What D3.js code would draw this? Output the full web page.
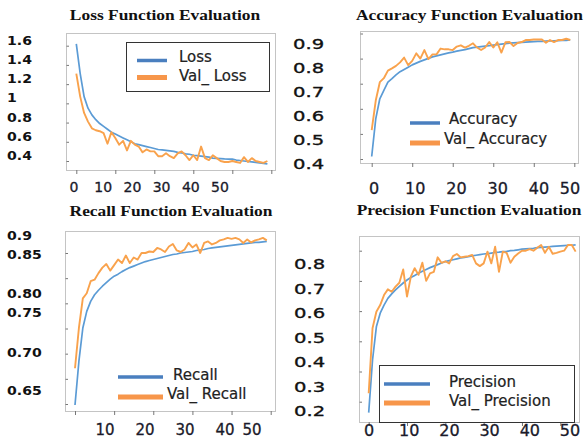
<!DOCTYPE html>
<html>
<head>
<meta charset="utf-8">
<script src="https://cdn.jsdelivr.net/npm/d3@7"></script>
<style>
  html, body { margin: 0; padding: 0; background: #fff; }
  svg { display: block; }
</style>
</head>
<body>
<div id="chart"></div>
<script>
// values, one entry per epoch
const lossTrain = [1.62, 1.31, 1.07, 0.95, 0.88, 0.83, 0.79, 0.76, 0.73, 0.70,
    0.68, 0.66, 0.64, 0.62, 0.60, 0.58, 0.57, 0.56, 0.55, 0.54,
    0.53, 0.52, 0.515, 0.51, 0.505, 0.50, 0.49, 0.485, 0.475, 0.47,
    0.46, 0.455, 0.45, 0.445, 0.44, 0.43, 0.428, 0.425, 0.422, 0.42,
    0.42, 0.41, 0.405, 0.40, 0.395, 0.39, 0.385, 0.38, 0.375, 0.37]
const lossVal = [1.31, 1.07, 0.90, 0.81, 0.74, 0.72, 0.71, 0.69, 0.58, 0.70,
    0.64, 0.57, 0.61, 0.51, 0.61, 0.57, 0.55, 0.49, 0.52, 0.50,
    0.50, 0.45, 0.45, 0.48, 0.45, 0.43, 0.48, 0.50, 0.46, 0.41,
    0.46, 0.41, 0.55, 0.43, 0.41, 0.46, 0.43, 0.40, 0.39, 0.39,
    0.40, 0.39, 0.38, 0.44, 0.39, 0.43, 0.40, 0.39, 0.38, 0.40]

const accTrain = [0.41, 0.56, 0.64, 0.673, 0.706, 0.72, 0.735, 0.748, 0.757, 0.766,
    0.775, 0.782, 0.789, 0.795, 0.801, 0.807, 0.811, 0.815, 0.819, 0.823,
    0.826, 0.83, 0.833, 0.836, 0.84, 0.844, 0.846, 0.848, 0.85, 0.852,
    0.854, 0.856, 0.858, 0.86, 0.862, 0.863, 0.864, 0.865, 0.866, 0.867,
    0.868, 0.869, 0.869, 0.87, 0.871, 0.871, 0.872, 0.873, 0.873, 0.874]
const accVal = [0.515, 0.633, 0.706, 0.722, 0.752, 0.761, 0.771, 0.785, 0.804, 0.774,
    0.791, 0.821, 0.80, 0.834, 0.798, 0.817, 0.817, 0.84, 0.837, 0.837,
    0.834, 0.848, 0.853, 0.844, 0.851, 0.861, 0.844, 0.834, 0.844, 0.866,
    0.844, 0.865, 0.824, 0.865, 0.866, 0.85, 0.862, 0.866, 0.874, 0.874,
    0.876, 0.876, 0.876, 0.863, 0.874, 0.866, 0.874, 0.874, 0.879, 0.874]

const recTrain = [0.598, 0.685, 0.751, 0.784, 0.804, 0.817, 0.826, 0.834, 0.841, 0.848,
    0.854, 0.858, 0.863, 0.867, 0.871, 0.874, 0.877, 0.88, 0.883, 0.885,
    0.887, 0.889, 0.891, 0.893, 0.895, 0.897, 0.898, 0.9, 0.901, 0.902,
    0.903, 0.905, 0.906, 0.907, 0.909, 0.91, 0.911, 0.912, 0.913, 0.914,
    0.915, 0.916, 0.917, 0.918, 0.919, 0.92, 0.921, 0.921, 0.922, 0.923]
const recVal = [0.671, 0.751, 0.81, 0.82, 0.844, 0.847, 0.86, 0.871, 0.878, 0.865,
    0.876, 0.887, 0.88, 0.895, 0.88, 0.891, 0.887, 0.90, 0.90, 0.903,
    0.902, 0.91, 0.907, 0.902, 0.913, 0.918, 0.905, 0.902, 0.907, 0.92,
    0.911, 0.917, 0.90, 0.92, 0.923, 0.917, 0.92, 0.925, 0.927, 0.93,
    0.928, 0.93, 0.927, 0.92, 0.927, 0.921, 0.925, 0.927, 0.93, 0.925]

const precTrain = [0.264, 0.438, 0.548, 0.593, 0.62, 0.642, 0.657, 0.67, 0.682, 0.693,
    0.703, 0.711, 0.718, 0.725, 0.732, 0.738, 0.744, 0.749, 0.754, 0.759,
    0.764, 0.767, 0.77, 0.773, 0.776, 0.778, 0.78, 0.783, 0.785, 0.787,
    0.789, 0.79, 0.792, 0.794, 0.795, 0.797, 0.798, 0.8, 0.801, 0.803,
    0.805, 0.806, 0.807, 0.808, 0.81, 0.811, 0.812, 0.813, 0.814, 0.815,
    0.816, 0.817, 0.818, 0.818, 0.819]
const precVal = [0.328, 0.543, 0.598, 0.62, 0.653, 0.672, 0.664, 0.681, 0.694, 0.738,
    0.648, 0.714, 0.742, 0.72, 0.76, 0.70, 0.725, 0.73, 0.778, 0.76,
    0.765, 0.758, 0.782, 0.789, 0.778, 0.78, 0.782, 0.786, 0.758, 0.749,
    0.758, 0.797, 0.758, 0.813, 0.73, 0.797, 0.793, 0.76, 0.78, 0.791,
    0.80, 0.80, 0.805, 0.80, 0.81, 0.819, 0.793, 0.813, 0.79, 0.793,
    0.797, 0.80, 0.819, 0.819, 0.797]

const epochTicks = [0, 10, 20, 30, 40, 50]
const lossTicks = [1.6, 1.4, 1.2, 1, 0.8, 0.6, 0.4]
const accTicks = [0.9, 0.8, 0.7, 0.6, 0.5, 0.4]
const recTicks = [0.9, 0.85, 0.8, 0.75, 0.7, 0.65, 0.6]
const precTicks = [0.8, 0.7, 0.6, 0.5, 0.4, 0.3]

const lossLabels = ['1.6', '1.4', '1.2', '1', '0.8', '0.6', '0.4']
const accLabels = ['0.9', '0.8', '0.7', '0.6', '0.5', '0.4']
const recLabels = ['0.9', '0.85', '0.80', '0.75', '0.70', '0.65']
const precLabels = ['0.8', '0.7', '0.6', '0.5', '0.4', '0.3', '0.2']
const epochLabels = ['0', '10', '20', '30', '40', '50']
const recEpochLabels = ['10', '20', '30', '40', '50']

const blue = '#5b9bd5'
const orange = '#f9a24c'
const legendBlue = '#4a7fbf'
const legendOrange = '#f7964a'

const svg = d3.select('#chart').append('svg')
    .attr('width', 584)
    .attr('height', 442)

// text with a horizontal stretch, the source picture is squeezed wider than tall
function stretchText(g, x, y, str, opts) {
    return g.append('text')
        .attr('transform', `translate(${x},${y}) scale(${opts.sx || 1},1)`)
        .attr('text-anchor', opts.anchor || 'start')
        .attr('dominant-baseline', 'central')
        .style('font-family', opts.family || '"DejaVu Sans", sans-serif')
        .style('font-size', `${opts.size}px`)
        .style('font-weight', opts.weight || 'normal')
        .style('fill', opts.color || '#1a1a1a')
        .style('stroke', opts.heavy ? (opts.color || '#1a1a1a') : 'none')
        .style('stroke-width', opts.heavy || 0)
        .text(str)
}

const panels = [
    {
        title: 'Loss Function Evaluation', titleX: 165, titleY: 15,
        box: [66, 33, 275, 170],
        xRange: [76.3, 271.3], yDomain: [1.6, 0.4], yRange: [45.7, 161],
        yTicks: lossTicks,
        yLabels: lossLabels, yLabDomain: [1.6, 0.4], yLabRange: [40.5, 155.7], yLabX: 7, yBold: true,
        xLabels: epochLabels, xLabDomain: [0, 50], xLabRange: [74, 220], xLabY: 187, xLabSize: 14,
        series: [lossTrain, lossVal], names: ['Loss', 'Val_ Loss'],
        legend: { box: [126, 42, 269, 91], line: [137, 167], rows: [60.5, 77.5], textX: [179, 179], textY: [56.5, 76] }
    },
    {
        title: 'Accuracy Function Evaluation', titleX: 469.5, titleY: 15,
        box: [360, 31, 578, 163],
        xRange: [371.7, 574.3], yDomain: [0.9, 0.4], yRange: [33.5, 159],
        yTicks: accTicks,
        yLabels: accLabels, yLabDomain: [0.9, 0.4], yLabRange: [44, 164], yLabX: 293, yBold: false,
        xLabels: epochLabels, xLabDomain: [0, 40, 50], xLabRange: [374, 539, 570], xLabY: 188, xLabSize: 16,
        series: [accTrain, accVal], names: ['Accuracy', 'Val_ Accuracy'],
        legend: { box: null, line: [410, 440], rows: [123, 143], textX: [449, 444], textY: [119, 139] }
    },
    {
        title: 'Recall Function Evaluation', titleX: 171, titleY: 211,
        box: [65, 231, 275, 411],
        xRange: [75, 270.7], yDomain: [0.9, 0.6], yRange: [253, 404],
        yTicks: recTicks,
        yLabels: recLabels, yLabDomain: [0.9, 0.85, 0.8, 0.75, 0.7, 0.65], yLabRange: [236, 255, 294, 313, 353, 391], yLabX: 7, yBold: true,
        xLabels: recEpochLabels, xLabDomain: [10, 40, 50], xLabRange: [105, 225, 252], xLabY: 430, xLabSize: 15,
        series: [recTrain, recVal], names: ['Recall', 'Val_ Recall'],
        legend: { box: null, line: [118, 163], rows: [377, 397], textX: [173, 167], textY: [375, 394] }
    },
    {
        title: 'Precision Function Evaluation', titleX: 469, titleY: 210,
        box: [359, 236, 579, 422],
        xRange: [368.7, 560.3], yDomain: [0.8, 0.3], yRange: [250.7, 401.7],
        yTicks: precTicks,
        yLabels: precLabels, yLabDomain: [0.8, 0.2], yLabRange: [264, 411], yLabX: 294, yBold: false,
        xLabels: epochLabels, xLabDomain: [0, 50], xLabRange: [369, 570], xLabY: 430, xLabSize: 16,
        series: [precTrain, precVal], names: ['Precision', 'Val_ Precision'],
        legend: { box: [379, 365, 574, 422], line: [384, 430], rows: [384, 403], textX: [449, 449], textY: [382, 401] }
    }
]

panels.forEach(drawPanel)

function drawPanel(p) {
    const g = svg.append('g')
    const [left, top, right, bottom] = p.box

    const x = d3.scaleLinear().domain([0, 50]).range(p.xRange)
    const y = d3.scaleLinear().domain(p.yDomain).range(p.yRange)

    stretchText(g, p.titleX, p.titleY, p.title, {
        sx: 1.2, size: 14.5, weight: 'bold', anchor: 'middle',
        family: '"Liberation Serif", "Times New Roman", serif', color: '#111'
    })

    g.append('rect')
        .attr('x', left + 0.5)
        .attr('y', top + 0.5)
        .attr('width', right - left)
        .attr('height', bottom - top)
        .style('fill', 'none')
        .style('stroke', '#c4c4c4')

    g.append('g')
        .attr('transform', `translate(${left + 3},0)`)
        .call(d3.axisLeft(y).tickValues(p.yTicks).tickSize(2.5).tickFormat(''))
    g.append('g')
        .attr('transform', `translate(0,${bottom})`)
        .call(d3.axisBottom(x).tickValues(epochTicks).tickSize(4).tickFormat(''))
    g.selectAll('.domain').remove()
    g.selectAll('.tick line').style('stroke', '#777')

    const line = d3.line()
        .x((d, i) => x(i))
        .y(d => y(d))

    const colors = [blue, orange]
    const widths = [1.7, 1.9]
    p.series.forEach((s, i) => {
        g.append('path')
            .datum(s)
            .attr('d', line)
            .style('fill', 'none')
            .style('stroke', colors[i])
            .style('stroke-width', widths[i])
            .style('stroke-linejoin', 'round')
    })

    // the labels sit loosely next to the ticks in the source
    const yLab = d3.scaleLinear().domain(p.yLabDomain).range(p.yLabRange)
    p.yLabels.forEach(t => {
        if (p.yBold) {
            stretchText(g, p.yLabX, yLab(+t), t, { sx: 1.1, size: 12.8, weight: 'bold', color: '#111' })
        } else {
            stretchText(g, p.yLabX, yLab(+t), t, { sx: 1.35, size: 14.5, color: '#111', heavy: 0.35 })
        }
    })

    const xLab = d3.scaleLinear().domain(p.xLabDomain).range(p.xLabRange)
    p.xLabels.forEach(t => {
        stretchText(g, xLab(+t), p.xLabY, t, { size: p.xLabSize, anchor: 'middle', color: '#1a1a2a', heavy: 0.3 })
    })

    const lg = p.legend
    if (lg.box) {
        g.append('rect')
            .attr('x', lg.box[0] + 0.5)
            .attr('y', lg.box[1] + 0.5)
            .attr('width', lg.box[2] - lg.box[0])
            .attr('height', lg.box[3] - lg.box[1])
            .style('fill', '#fff')
            .style('stroke', '#333')
    }
    const legendColors = [legendBlue, legendOrange]
    const legendWidths = [3.5, 5]
    p.names.forEach((name, i) => {
        g.append('line')
            .attr('x1', lg.line[0])
            .attr('x2', lg.line[1])
            .attr('y1', lg.rows[i])
            .attr('y2', lg.rows[i])
            .style('stroke', legendColors[i])
            .style('stroke-width', legendWidths[i])
        stretchText(g, lg.textX[i], lg.textY[i], name, { size: 15, color: '#222', heavy: 0.2 })
    })
}
</script>
</body>
</html>
